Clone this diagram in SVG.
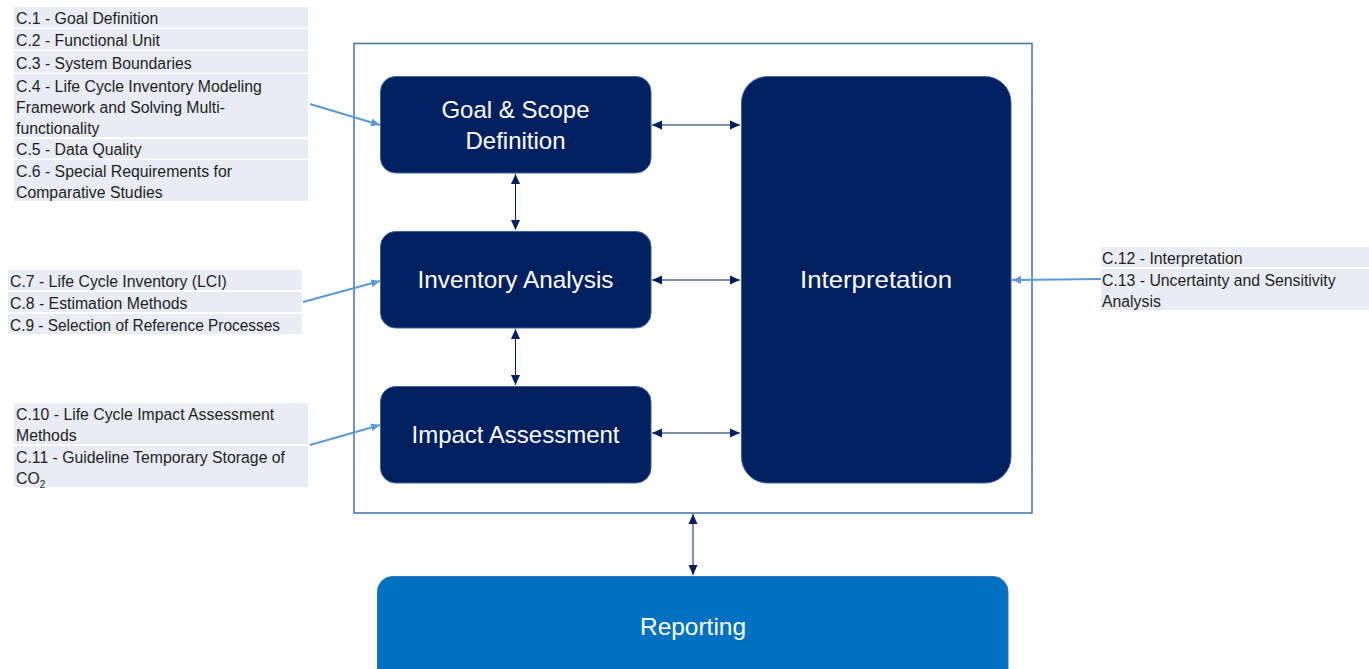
<svg xmlns="http://www.w3.org/2000/svg" width="1369" height="669" viewBox="0 0 1369 669">
<style>
.lbl{fill:#E9EBF5}
.lt{font-family:"Liberation Sans",Arial,sans-serif;font-size:15.8px;fill:#1F1F1F}
.node{fill:#002060;stroke:#3A64A0;stroke-width:1}
.nt{font-family:"Liberation Sans",Arial,sans-serif;font-size:24px;fill:#FFFFFF;text-anchor:middle}
.dc{stroke:#002060;stroke-width:1;fill:none;marker-start:url(#ah);marker-end:url(#ah)}
.bc{stroke:#5B9BD5;stroke-width:2;fill:none;marker-end:url(#bh)}
</style>
<defs>
<marker id="ah" viewBox="0 0 10 10" refX="10" refY="5" markerWidth="10" markerHeight="10" markerUnits="userSpaceOnUse" orient="auto-start-reverse">
<path d="M0,0.5 L10,5 L0,9.5 Z" fill="#002060"/>
</marker>
<marker id="bh" viewBox="0 0 10 10" refX="10" refY="5" markerWidth="9" markerHeight="9" markerUnits="userSpaceOnUse" orient="auto">
<path d="M0,0.5 L10,5 L0,9.5 Z" fill="#5B9BD5"/>
</marker>
</defs>
<rect width="1369" height="669" fill="#FFFFFF"/>

<g id="frame">
<rect x="354" y="43.5" width="678" height="469.5" fill="none" stroke="#4472A8" stroke-width="1.5"/>
</g>

<g id="labels-goal">
<rect class="lbl" x="14" y="7" width="294" height="20.5"/>
<rect class="lbl" x="14" y="29" width="294" height="20.5"/>
<rect class="lbl" x="14" y="51" width="294" height="21.5"/>
<rect class="lbl" x="14" y="74" width="294" height="63"/>
<rect class="lbl" x="14" y="139" width="294" height="19.5"/>
<rect class="lbl" x="14" y="160" width="294" height="41"/>
<text class="lt" x="16" y="24">C.1 - Goal Definition</text>
<text class="lt" x="16" y="46">C.2 - Functional Unit</text>
<text class="lt" x="16" y="69">C.3 - System Boundaries</text>
<text class="lt" x="16" y="92">C.4 - Life Cycle Inventory Modeling</text>
<text class="lt" x="16" y="113">Framework and Solving Multi-</text>
<text class="lt" x="16" y="134">functionality</text>
<text class="lt" x="16" y="155">C.5 - Data Quality</text>
<text class="lt" x="16" y="177">C.6 - Special Requirements for</text>
<text class="lt" x="16" y="198">Comparative Studies</text>
</g>

<g id="labels-inventory">
<rect class="lbl" x="8" y="270" width="294" height="20"/>
<rect class="lbl" x="8" y="292" width="294" height="20"/>
<rect class="lbl" x="8" y="314" width="294" height="20"/>
<text class="lt" x="10" y="287">C.7 - Life Cycle Inventory (LCI)</text>
<text class="lt" x="10" y="309">C.8 - Estimation Methods</text>
<text class="lt" x="10" y="331" textLength="270" lengthAdjust="spacingAndGlyphs">C.9 - Selection of Reference Processes</text>
</g>

<g id="labels-impact">
<rect class="lbl" x="14" y="403" width="294" height="41"/>
<rect class="lbl" x="14" y="446" width="294" height="41"/>
<text class="lt" x="16" y="420">C.10 - Life Cycle Impact Assessment</text>
<text class="lt" x="16" y="441">Methods</text>
<text class="lt" x="16" y="463">C.11 - Guideline Temporary Storage of</text>
<text class="lt" x="16" y="484">CO<tspan font-size="10" dy="4">2</tspan></text>
</g>

<g id="labels-interpretation">
<rect class="lbl" x="1101" y="247" width="268" height="20"/>
<rect class="lbl" x="1101" y="269" width="268" height="41"/>
<text class="lt" x="1102" y="264">C.12 - Interpretation</text>
<text class="lt" x="1102" y="286">C.13 - Uncertainty and Sensitivity</text>
<text class="lt" x="1102" y="307">Analysis</text>
</g>

<g id="node-goal">
<rect class="node" x="380.5" y="76.5" width="270.5" height="96.5" rx="15"/>
<text class="nt" x="515.5" y="118" font-size="23.3">Goal &amp; Scope</text>
<text class="nt" x="515.5" y="149" font-size="23.3">Definition</text>
</g>

<g id="node-inventory">
<rect class="node" x="380.5" y="231.5" width="270.5" height="96.5" rx="15"/>
<text class="nt" x="515.5" y="288" textLength="196" lengthAdjust="spacingAndGlyphs">Inventory Analysis</text>
</g>

<g id="node-impact">
<rect class="node" x="380.5" y="386.5" width="270.5" height="96.5" rx="15"/>
<text class="nt" x="515.5" y="443" textLength="208" lengthAdjust="spacingAndGlyphs">Impact Assessment</text>
</g>

<g id="node-interpretation">
<rect class="node" x="741.5" y="76.5" width="269.5" height="406.5" rx="26"/>
<text class="nt" x="876" y="288" textLength="152" lengthAdjust="spacingAndGlyphs">Interpretation</text>
</g>

<g id="node-reporting">
<rect x="377.5" y="576.5" width="630.5" height="110" rx="15" fill="#0070C0" stroke="#2E75B6" stroke-width="1"/>
<text class="nt" x="693" y="635" textLength="106" lengthAdjust="spacingAndGlyphs">Reporting</text>
</g>

<g id="connectors">
<line class="dc" x1="652" y1="125" x2="740" y2="125"/>
<line class="dc" x1="652" y1="280" x2="740" y2="280"/>
<line class="dc" x1="652" y1="433" x2="740" y2="433"/>
<line class="dc" x1="515.5" y1="174" x2="515.5" y2="230"/>
<line class="dc" x1="515.5" y1="329" x2="515.5" y2="385"/>
<line class="dc" x1="693" y1="514" x2="693" y2="575"/>
<line class="bc" x1="310" y1="104" x2="380" y2="125"/>
<line class="bc" x1="303" y1="302" x2="380" y2="281"/>
<line class="bc" x1="310" y1="445" x2="380" y2="425"/>
<line class="bc" x1="1101" y1="279" x2="1012" y2="280"/>
</g>
</svg>
